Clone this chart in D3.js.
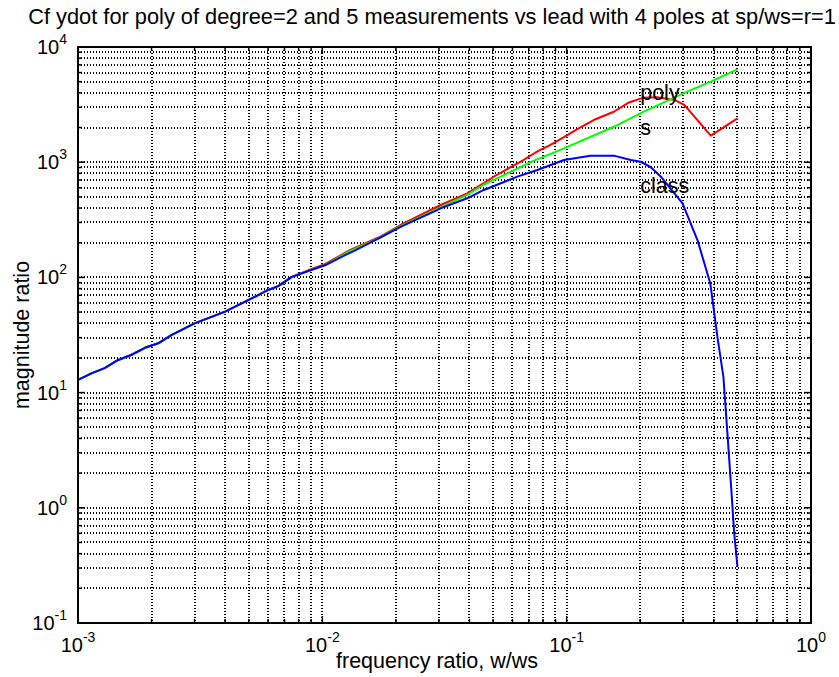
<!DOCTYPE html>
<html>
<head>
<meta charset="utf-8">
<script src="https://cdn.jsdelivr.net/npm/d3@7"></script>
<style>
  html, body { margin: 0; padding: 0; background: #fff; }
  svg { display: block; }
  text { font-family: "Liberation Sans", Arial, Helvetica, sans-serif; fill: #000; }
</style>
</head>
<body>
<svg id="chart" width="839" height="677"></svg>
<script>
// ---------------- data ----------------
const titleText = "Cf ydot for poly of degree=2 and 5 measurements vs lead with 4 poles at sp/ws=r=1";
const xLabelText = "frequency ratio, w/ws";
const yLabelText = "magnitude ratio";

const xTickExps = [-3, -2, -1, 0];
const yTickExps = [-1, 0, 1, 2, 3, 4];

// "class" (blue)
const classFreq = [0.001, 0.001135, 0.001285, 0.00146, 0.00165, 0.00188, 0.00213, 0.00241, 0.003, 0.004,
  0.005, 0.006, 0.0066, 0.0075, 0.009, 0.0103, 0.0124, 0.0135, 0.0175, 0.0209,
  0.0286, 0.0305, 0.0392, 0.0458, 0.0628, 0.0759, 0.0975, 0.125, 0.156, 0.183,
  0.201, 0.221, 0.243, 0.298, 0.343, 0.387, 0.414, 0.438, 0.455, 0.470, 0.485, 0.5];
const classMag = [12.9, 14.7, 16.3, 19.2, 21.2, 24.5, 26.8, 31.6, 39.9, 50.4,
  63.7, 77.8, 84, 101, 116, 128, 156, 170, 225, 275,
  372, 398, 486, 574, 749, 855, 1045, 1140, 1140, 1045,
  1009, 904, 748, 440, 211, 89, 30.5, 13.7, 4.4, 1.63, 0.60, 0.31];

// "poly" (red)
const polyFreq = [0.001, 0.001135, 0.001285, 0.00146, 0.00165, 0.00188, 0.00213, 0.00241, 0.003, 0.004,
  0.005, 0.006, 0.0066, 0.0075, 0.009, 0.0103, 0.013, 0.017, 0.0209, 0.0305,
  0.0392, 0.0503, 0.0668, 0.0759, 0.0855, 0.0975, 0.111, 0.129, 0.156, 0.18,
  0.205, 0.235, 0.276, 0.303, 0.389, 0.5];
const polyMag = [12.9, 14.7, 16.3, 19.2, 21.2, 24.5, 26.8, 31.6, 39.9, 50.4,
  63.7, 77.8, 84, 101, 118, 131, 173, 222, 285, 425,
  537, 748, 1050, 1240, 1409, 1650, 1950, 2323, 2740, 3300,
  3620, 3660, 3470, 3140, 1700, 2400];

// "s" (green)
const sFreq = [0.001, 0.001135, 0.001285, 0.00146, 0.00165, 0.00188, 0.00213, 0.00241, 0.003, 0.004,
  0.005, 0.006, 0.0066, 0.0075, 0.009, 0.0103, 0.013, 0.017, 0.0209, 0.0305,
  0.0392, 0.0458, 0.0537, 0.0711, 0.0975, 0.156, 0.207, 0.303, 0.389, 0.5];
const sMag = [12.9, 14.7, 16.3, 19.2, 21.2, 24.5, 26.8, 31.6, 39.9, 50.4,
  63.7, 77.8, 84, 101, 116, 128, 170, 218, 278, 405,
  520, 640, 750, 1000, 1320, 2030, 2750, 4000, 5000, 6400];

// in-plot text annotations (data coordinates, like MATLAB text())
const annoText = ["poly", "s", "class"];
const annoFreq = [0.2, 0.2, 0.2];
const annoMag = [3470, 1720, 541];

// ---------------- drawing ----------------
const plot = { left: 78, right: 811, top: 47, bottom: 623 };
const svg = d3.select("#chart");

const x = d3.scaleLog().domain([1e-3, 1]).range([plot.left, plot.right]);
const y = d3.scaleLog().domain([1e-1, 1e4]).range([plot.bottom, plot.top]);

// tick values (major + minor)
function logTicks(e0, e1) {
  const out = [];
  for (let e = e0; e < e1; e++) {
    for (let m = 1; m <= 9; m++) out.push({ v: m * Math.pow(10, e), major: m === 1 });
  }
  out.push({ v: Math.pow(10, e1), major: true });
  return out;
}
const xt = logTicks(xTickExps[0], xTickExps[xTickExps.length - 1]);
const yt = logTicks(yTickExps[0], yTickExps[yTickExps.length - 1]);

// grid (dotted)
const grid = svg.append("g").attr("stroke", "#000").attr("stroke-width", 2)
  .attr("stroke-dasharray", "1,2").attr("shape-rendering", "crispEdges");
grid.selectAll("line.gx").data(xt).join("line")
  .attr("x1", d => Math.round(x(d.v))).attr("x2", d => Math.round(x(d.v)))
  .attr("y1", plot.top).attr("y2", plot.bottom);
grid.selectAll("line.gy").data(yt).join("line")
  .attr("y1", d => Math.round(y(d.v))).attr("y2", d => Math.round(y(d.v)))
  .attr("x1", plot.left).attr("x2", plot.right);

// data lines
const line = d3.line().x(d => x(d[0])).y(d => y(d[1]));
const series = [
  { f: polyFreq, m: polyMag, color: "#ff0000" },
  { f: sFreq, m: sMag, color: "#00ff00" },
  { f: classFreq, m: classMag, color: "#0000ff" }
];
series.forEach(s => {
  svg.append("path")
    .datum(s.f.map((f, i) => [f, s.m[i]]))
    .attr("fill", "none").attr("stroke", s.color)
    .attr("stroke-width", 2).attr("stroke-linejoin", "round")
    .attr("d", line);
});

// axes box
svg.append("rect")
  .attr("x", plot.left).attr("y", plot.top)
  .attr("width", plot.right - plot.left).attr("height", plot.bottom - plot.top)
  .attr("fill", "none").attr("stroke", "#000").attr("stroke-width", 2);

// ticks (inward, all four sides)
const tk = svg.append("g").attr("stroke", "#000").attr("stroke-width", 1.5);
xt.forEach(d => {
  const L = d.major ? 7 : 4, xx = x(d.v);
  tk.append("line").attr("x1", xx).attr("x2", xx).attr("y1", plot.bottom).attr("y2", plot.bottom - L);
  tk.append("line").attr("x1", xx).attr("x2", xx).attr("y1", plot.top).attr("y2", plot.top + L);
});
yt.forEach(d => {
  const L = d.major ? 7 : 4, yy = y(d.v);
  tk.append("line").attr("y1", yy).attr("y2", yy).attr("x1", plot.left).attr("x2", plot.left + L);
  tk.append("line").attr("y1", yy).attr("y2", yy).attr("x1", plot.right).attr("x2", plot.right - L);
});

// tick labels
const tickFont = 20, expFont = 14;
xTickExps.forEach(e => {
  const t = svg.append("text").attr("x", x(Math.pow(10, e))).attr("y", 652)
    .attr("text-anchor", "middle").attr("font-size", tickFont);
  t.append("tspan").text("10");
  t.append("tspan").attr("dy", -10).attr("font-size", expFont).text(String(e));
});
yTickExps.forEach(e => {
  const t = svg.append("text").attr("x", 67).attr("y", y(Math.pow(10, e)) + 7)
    .attr("text-anchor", "end").attr("font-size", tickFont);
  t.append("tspan").text("10");
  t.append("tspan").attr("dy", -10).attr("font-size", expFont).text(String(e));
});

// annotations
annoText.forEach((s, i) => {
  svg.append("text").attr("x", x(annoFreq[i])).attr("y", y(annoMag[i]))
    .attr("font-size", 21.5).text(s);
});

// title and axis labels
svg.append("text").attr("x", 432).attr("y", 24).attr("text-anchor", "middle")
  .attr("font-size", 21.8).text(titleText);
svg.append("text").attr("x", 437).attr("y", 668).attr("text-anchor", "middle")
  .attr("font-size", 21.5).text(xLabelText);
svg.append("text").attr("transform", `translate(29,${(plot.top + plot.bottom) / 2}) rotate(-90)`)
  .attr("text-anchor", "middle").attr("font-size", 21.5).text(yLabelText);
</script>
</body>
</html>
